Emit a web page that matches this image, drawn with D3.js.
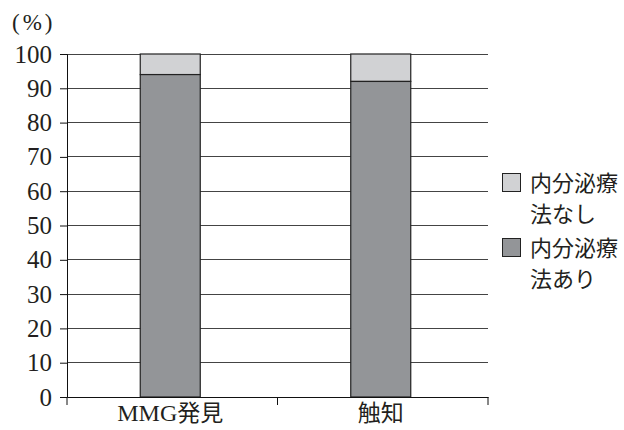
<!DOCTYPE html>
<html><head><meta charset="utf-8">
<script src="https://cdn.jsdelivr.net/npm/d3@7"></script>
<style>body{margin:0;background:#fff}svg{display:block}</style>
</head><body>
<script>
const categories = ["MMG発見", "触知"];
const withTherapy = [94, 92];
const withoutTherapy = [6, 8];
const seriesNames = ["内分泌療法なし", "内分泌療法あり"];
const legendLines = [["内分泌療", "法なし"], ["内分泌療", "法あり"]];
const yTicks = [0,10,20,30,40,50,60,70,80,90,100];

const W = 624, H = 430;
const margin = {left: 67, right: 136, top: 54, bottom: 33};
const svg = d3.select("body").append("svg").attr("width", W).attr("height", H);
const numFont = "'Liberation Serif', 'DejaVu Serif', serif";
const jpFont = "'Noto Sans CJK JP', sans-serif";

const x = d3.scaleBand().domain(categories).range([margin.left, W - margin.right]).paddingInner(0).paddingOuter(0);
const y = d3.scaleLinear().domain([0, 100]).range([H - margin.bottom, margin.top]);

// gridlines
svg.append("g").selectAll("line").data(yTicks.filter(d => d > 0)).join("line")
  .attr("x1", margin.left).attr("x2", W - margin.right)
  .attr("y1", d => y(d)).attr("y2", d => y(d))
  .attr("stroke", "#444").attr("stroke-width", 1).attr("shape-rendering", "crispEdges");

// bars
const barW = 60;
const data = categories.map((c, i) => ({c, a: withTherapy[i], b: withoutTherapy[i]}));
const g = svg.append("g");
data.forEach(d => {
  const cx = x(d.c) + x.bandwidth() / 2 - 2;
  g.append("rect").attr("x", cx - barW/2).attr("width", barW)
    .attr("y", y(d.a + d.b)).attr("height", y(d.a) - y(d.a + d.b))
    .attr("fill", "#d1d2d4").attr("stroke", "#222").attr("stroke-width", 1.2);
  g.append("rect").attr("x", cx - barW/2).attr("width", barW)
    .attr("y", y(d.a)).attr("height", y(0) - y(d.a))
    .attr("fill", "#939598").attr("stroke", "#222").attr("stroke-width", 1.2);
});

// y axis
const yAxis = svg.append("g").attr("transform", `translate(${margin.left},0)`)
  .call(d3.axisLeft(y).tickValues(yTicks).tickSize(7).tickPadding(8));
yAxis.select(".domain").attr("stroke", "#111");
yAxis.selectAll(".tick line").attr("stroke", "#111");
yAxis.selectAll("text").attr("font-family", numFont).attr("font-size", 25).attr("fill", "#231f20");

// x axis
const xAxis = svg.append("g").attr("transform", `translate(0,${y(0)})`)
  .call(d3.axisBottom(x).tickSize(0).tickPadding(8));
xAxis.select(".domain").attr("stroke", "#111");
xAxis.selectAll("text").attr("font-family", jpFont).attr("font-size", 23).attr("fill", "#231f20")
  .attr("dx", -2);
// x ticks at band boundaries
const bounds = [margin.left, x(categories[1]), W - margin.right];
svg.append("g").selectAll("line").data(bounds).join("line")
  .attr("x1", d => d).attr("x2", d => d).attr("y1", y(0)).attr("y2", y(0) + 8)
  .attr("stroke", "#111");

// latin part of label in serif
xAxis.selectAll(".tick text").each(function(d){
  const t = d3.select(this); t.text(null);
  const m = d.match(/^([A-Za-z]+)(.*)$/);
  if (m) {
    t.append("tspan").attr("font-family", numFont).attr("font-size", 24).text(m[1]);
    t.append("tspan").text(m[2]);
  } else t.text(d);
});

// unit label
svg.append("text").attr("x", 12).attr("y", 30).attr("font-family", numFont).attr("font-size", 23)
  .attr("letter-spacing", 3).attr("fill", "#231f20").text("(%)");

// legend
const legColors = ["#d1d2d4", "#939598"];
const legY = [173, 238];
legendLines.forEach((lines, i) => {
  svg.append("rect").attr("x", 502.5).attr("y", legY[i] + 0.5).attr("width", 18).attr("height", 18)
    .attr("fill", legColors[i]).attr("stroke", "#222").attr("stroke-width", 1);
  lines.forEach((ln, j) => {
    svg.append("text").attr("x", 530).attr("y", legY[i] + 18 + j * 31)
      .attr("font-family", jpFont).attr("font-size", 22).attr("fill", "#231f20").text(ln);
  });
});
</script>
</body></html>
